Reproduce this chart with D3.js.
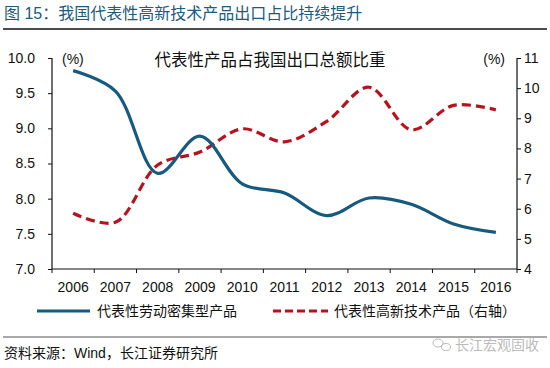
<!DOCTYPE html>
<html><head><meta charset="utf-8">
<script src="https://cdn.jsdelivr.net/npm/d3@7"></script>
<style>
body{margin:0;background:#fff;}
text{font-family:Arial,"Liberation Sans","Noto Sans CJK SC",sans-serif;}
.num{font-family:Arial,"Liberation Sans",sans-serif;}
</style></head>
<body><svg id="c" width="550" height="368"></svg>
<script>
const years = ["2006","2007","2008","2009","2010","2011","2012","2013","2014","2015","2016"];
const laborIntensive = [9.82,9.53,8.36,8.89,8.21,8.08,7.76,8.01,7.92,7.64,7.52];
const highTech = [5.85,5.55,7.45,7.88,8.65,8.22,8.90,10.03,8.62,9.43,9.28];
const leftTicks = [7.0,7.5,8.0,8.5,9.0,9.5,10.0];
const rightTicks = [4,5,6,7,8,9,10,11];
const title = "图 15：我国代表性高新技术产品出口占比持续提升";
const chartTitle = "代表性产品占我国出口总额比重";
const legendLabels = ["代表性劳动密集型产品","代表性高新技术产品（右轴）"];
const source = "资料来源：Wind，长江证券研究所";
const watermark = "长江宏观固收";

const blue = "#175a80", red = "#b8121e";
const svg = d3.select("#c");
const L = 52, R = 517, T = 58, B = 269;

const x = d3.scaleBand().domain(years).range([L, R]).padding(0);
const yL = d3.scaleLinear().domain([7, 10]).range([B, T]);
const yR = d3.scaleLinear().domain([4, 11]).range([B, T]);
const cx = d => x(d) + x.bandwidth() / 2;

// header
svg.append("text").attr("x", 4).attr("y", 19).attr("font-size", 16).attr("fill", "#205a7c").text(title);
svg.append("line").attr("x1", 3).attr("x2", 547).attr("y1", 29).attr("y2", 29).attr("stroke", "#111").attr("stroke-width", 1.5);

// axes
const axL = svg.append("g").attr("transform", `translate(${L},0)`)
  .call(d3.axisLeft(yL).tickValues(leftTicks).tickFormat(d3.format(".1f")).tickSize(4).tickPadding(13));
const axR = svg.append("g").attr("transform", `translate(${R},0)`)
  .call(d3.axisRight(yR).tickValues(rightTicks).tickFormat(d3.format("d")).tickSize(4).tickPadding(3));
const axB = svg.append("g").attr("transform", `translate(0,${B})`)
  .call(d3.axisBottom(x).tickSize(0).tickPadding(13));
[axL, axR, axB].forEach(g => {
  g.selectAll("text").attr("class", "num").attr("font-size", 14).attr("fill", "#111");
  g.selectAll("line").attr("stroke", "#111");
  g.select(".domain").attr("stroke", "#111").attr("stroke-width", 1.2);
});
axL.select(".domain").attr("d", `M0,${B}V${T}`);
axR.select(".domain").attr("d", `M0,${B}V${T}`);
axB.select(".domain").attr("d", `M${L},0H${R}`);
// boundary ticks on x axis
const bounds = years.map(d => x(d)).concat([x.range()[1]]);
axB.selectAll("line.bt").data(bounds).enter().append("line").attr("class", "bt")
  .attr("x1", d => d).attr("x2", d => d).attr("y1", 0).attr("y2", 4).attr("stroke", "#111");

// units & chart title
svg.append("text").attr("class", "num").attr("x", 62).attr("y", 64).attr("font-size", 14).attr("fill", "#111").text("(%)");
svg.append("text").attr("class", "num").attr("x", 505).attr("y", 64).attr("text-anchor", "end").attr("font-size", 14).attr("fill", "#111").text("(%)");
svg.append("text").attr("x", 270).attr("y", 66).attr("text-anchor", "middle").attr("font-size", 16.5).attr("fill", "#111").text(chartTitle);

// lines
const curve = d3.curveCatmullRom.alpha(0.5);
const lineL = d3.line().x((d, i) => cx(years[i])).y(d => yL(d)).curve(curve);
const lineR = d3.line().x((d, i) => cx(years[i])).y(d => yR(d)).curve(curve);
svg.append("path").attr("d", lineR(highTech)).attr("fill", "none").attr("stroke", red).attr("stroke-width", 3.2).attr("stroke-dasharray", "9,5");
svg.append("path").attr("d", lineL(laborIntensive)).attr("fill", "none").attr("stroke", blue).attr("stroke-width", 3.2);

// legend
const lg = svg.append("g");
lg.append("line").attr("x1", 37).attr("x2", 90).attr("y1", 311).attr("y2", 311).attr("stroke", blue).attr("stroke-width", 3.2);
lg.append("text").attr("x", 97).attr("y", 316).attr("font-size", 14).attr("fill", "#111").text(legendLabels[0]);
lg.append("line").attr("x1", 273).attr("x2", 328).attr("y1", 311).attr("y2", 311).attr("stroke", red).attr("stroke-width", 3.2).attr("stroke-dasharray", "8,4");
lg.append("text").attr("x", 334).attr("y", 316).attr("font-size", 14).attr("fill", "#111").text(legendLabels[1]);

// footer
svg.append("line").attr("x1", 3).attr("x2", 547).attr("y1", 337).attr("y2", 337).attr("stroke", "#555").attr("stroke-width", 1.2);
svg.append("text").attr("x", 4).attr("y", 358).attr("font-size", 14).attr("fill", "#111").text(source);
const wm = svg.append("g").attr("fill", "none").attr("stroke", "#bbb").attr("stroke-width", 1);
wm.append("ellipse").attr("cx", 438).attr("cy", 343).attr("rx", 5).attr("ry", 4);
wm.append("ellipse").attr("cx", 446).attr("cy", 347).attr("rx", 4.5).attr("ry", 3.5);
svg.append("text").attr("x", 455).attr("y", 350).attr("font-size", 14).attr("fill", "#bbb").text(watermark);
</script></body></html>
